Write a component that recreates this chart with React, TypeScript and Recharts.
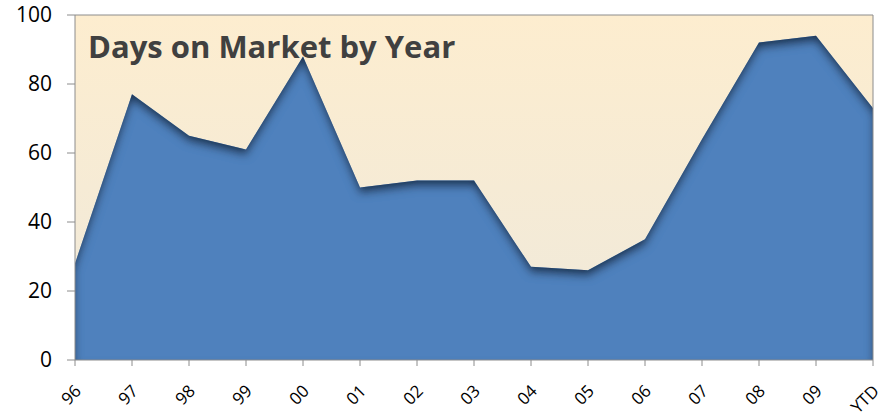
import { AreaChart, Area, XAxis, YAxis, CartesianGrid, ReferenceLine } from "recharts";

const years = ["96", "97", "98", "99", "00", "01", "02", "03", "04", "05", "06", "07", "08", "09", "YTD"];
const daysOnMarket = [28, 77, 65, 61, 88, 50, 52, 52, 27, 26, 35, 64, 92, 94, 73];
const yTicks = [0, 20, 40, 60, 80, 100];

const data = years.map((year, i) => ({ year, days: daysOnMarket[i] }));

const FONT = "'Open Sans', sans-serif";
const AXIS_GRAY = "#8c8c8c";

function YearTick({ x, y, payload }: any) {
  const ax = x + 4;
  const ay = y + 21;
  return (
    <text
      x={ax}
      y={ay}
      transform={`rotate(-45, ${ax}, ${ay})`}
      textAnchor="end"
      dominantBaseline="middle"
      fontFamily={FONT}
      fontSize={17}
      fill="#000"
    >
      {payload.value}
    </text>
  );
}

export default function App() {
  return (
    <div style={{ position: "absolute", left: 0, top: 0, width: 888, height: 418, background: "#fff" }}>
      <AreaChart width={888} height={418} data={data} margin={{ top: 15, right: 15, bottom: 0, left: 0 }}>
        <defs>
          <linearGradient id="plotBg" x1="0" y1="0" x2="0" y2="1">
            <stop offset="0%" stopColor="#fdedcf" />
            <stop offset="100%" stopColor="#efe9db" />
          </linearGradient>
          <filter id="innerShadow" x="-5%" y="-5%" width="110%" height="110%">
            <feOffset in="SourceAlpha" dx="0" dy="6" result="off" />
            <feGaussianBlur in="off" stdDeviation="4" result="blur" />
            <feComposite in="SourceAlpha" in2="blur" operator="out" result="inverse" />
            <feFlood floodColor="#1c2f4a" floodOpacity="0.95" />
            <feComposite in2="inverse" operator="in" result="shadow" />
            <feMerge>
              <feMergeNode in="SourceGraphic" />
              <feMergeNode in="shadow" />
            </feMerge>
          </filter>
        </defs>
        <CartesianGrid horizontal={false} vertical={false} fill="url(#plotBg)" stroke="none" />
        <XAxis
          dataKey="year"
          interval={0}
          padding={{ left: 0, right: 0 }}
          height={58}
          tickSize={6}
          axisLine={{ stroke: AXIS_GRAY }}
          tickLine={{ stroke: AXIS_GRAY }}
          tick={<YearTick />}
        />
        <YAxis
          domain={[0, 100]}
          ticks={yTicks}
          width={75}
          tickSize={8}
          tickMargin={15}
          axisLine={{ stroke: AXIS_GRAY }}
          tickLine={{ stroke: AXIS_GRAY }}
          tick={{ fill: "#000", fontSize: 21, fontFamily: FONT }}
        />
        <Area
          type="linear"
          dataKey="days"
          stroke="none"
          fill="#4f81bd"
          fillOpacity={1}
          filter="url(#innerShadow)"
          isAnimationActive={false}
        />
        <ReferenceLine y={100} stroke={AXIS_GRAY} />
        <ReferenceLine x="YTD" stroke={AXIS_GRAY} />
      </AreaChart>
      <div
        style={{
          position: "absolute",
          left: 88,
          top: 31,
          fontFamily: FONT,
          fontWeight: 700,
          fontSize: 31,
          lineHeight: "31px",
          color: "#404040",
          whiteSpace: "nowrap",
        }}
      >
        Days on Market by Year
      </div>
    </div>
  );
}
